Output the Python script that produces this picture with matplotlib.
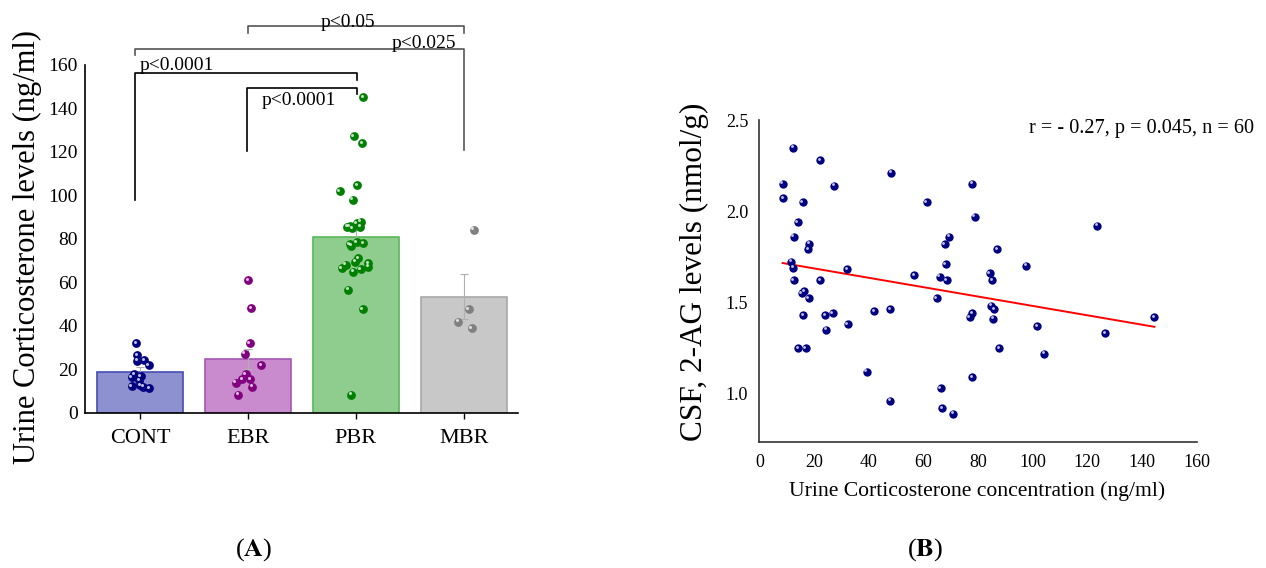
import numpy as np
import matplotlib
matplotlib.use("Agg")
import matplotlib.pyplot as plt
from matplotlib.transforms import offset_copy

plt.rcParams['font.family'] = ['Liberation Serif', 'DejaVu Serif']
plt.rcParams['mathtext.fontset'] = 'stix'

# ---- panel A data ----
groups = ["CONT", "EBR", "PBR", "MBR"]
group_means = [19.0, 25.0, 81.0, 53.5]
group_sem = [2.0, 4.6, 3.0, 10.5]

cont_vals = [32.2, 26.7, 24.1, 24.4, 22.1, 17.9, 17.0, 16.4, 15.2, 12.4, 12.9, 12.1, 11.3]
cont_jit = [-0.034, -0.025, -0.028, 0.040, 0.081, -0.053, 0.006, -0.077, -0.006, -0.077, 0.0, 0.031, 0.086]

ebr_vals = [61.1, 48.1, 32.2, 27.3, 22.1, 17.9, 15.5, 15.5, 13.9, 12.1, 8.4]
ebr_jit = [0.003, 0.028, 0.016, -0.031, 0.123, -0.021, -0.053, 0.019, -0.114, 0.040, -0.090]

pbr_vals = [145.1, 127.2, 124.0, 104.6, 102.1, 98.1,
            85.7, 86.0, 84.9, 87.2, 88.0, 85.7,
            77.6, 78.5, 78.0, 76.9,
            71.1, 69.6, 68.1, 68.8, 66.5, 65.0, 66.1, 67.3,
            56.7, 47.8, 8.4]
pbr_jit = [0.065, -0.022, 0.056, 0.009, -0.152, -0.031,
           -0.083, -0.056, -0.037, 0.006, 0.046, 0.040,
           -0.056, 0.006, 0.068, -0.046,
           0.021, -0.009, -0.093, 0.114, -0.130, -0.025, 0.046, 0.114,
           -0.074, 0.061, -0.044]

mbr_vals = [84.3, 47.8, 42.0, 39.1]
mbr_jit = [0.090, 0.044, -0.052, 0.071]

# significance brackets: (x1, x2, y, left drop, right drop, label, color)
brackets = [
    (1.0, 3.0, 177.9, 174.7, 174.7, "p<0.05", "#555555"),
    (-0.05, 3.0, 167.2, 164.6, 120.9, "p<0.025", "#555555"),
    (-0.05, 2.01, 156.2, 97.9, 153.1, "p<0.0001", "black"),
    (0.99, 2.01, 149.6, 120.6, 146.5, "p<0.0001", "black"),
]

# ---- panel B data ----
cort_x = [12.4, 22.3, 48.3, 8.5, 27.4, 77.9, 8.8, 15.8, 61.2, 78.8,
          123.6, 14.0, 12.6, 69.5, 67.8, 18.2, 17.9, 87.0, 11.7, 12.4,
          68.1, 97.7, 32.1, 56.7, 84.2, 66.0, 68.5, 85.2, 12.6, 22.2,
          16.4, 15.5, 18.0, 64.9, 84.7, 85.8, 41.9, 47.9, 26.8, 24.0,
          16.1, 77.9, 76.9, 85.5, 144.5, 32.3, 101.7, 24.5, 126.6, 14.2,
          17.0, 87.8, 104.3, 39.2, 77.9, 66.3, 47.9, 66.8, 70.9]
ag_y = [2.349, 2.281, 2.210, 2.150, 2.139, 2.150, 2.070, 2.050, 2.050, 1.970,
        1.920, 1.940, 1.860, 1.860, 1.820, 1.822, 1.791, 1.791, 1.722, 1.689,
        1.709, 1.700, 1.680, 1.650, 1.660, 1.640, 1.620, 1.620, 1.620, 1.620,
        1.560, 1.550, 1.521, 1.521, 1.481, 1.461, 1.450, 1.461, 1.439, 1.430,
        1.430, 1.439, 1.419, 1.410, 1.419, 1.379, 1.368, 1.350, 1.329, 1.249,
        1.249, 1.249, 1.218, 1.118, 1.089, 1.027, 0.959, 0.919, 0.888]

bar_face = ["#8e91d0", "#c98bcd", "#8fcd8f", "#c8c8c8"]
bar_edge = ["#454db0", "#a656b3", "#58b858", "#a8a8a8"]
dot_col = ["#000080", "#800080", "#008000", "#808080"]


def balls(ax, x, y, color, s):
    # sphere-like dots: solid dot plus a small shifted highlight
    ax.scatter(x, y, s=s, color=color, zorder=4, linewidths=0, clip_on=False)
    hl = offset_copy(ax.transData, fig=ax.figure, x=-1.0, y=1.0, units='points')
    ax.scatter(x, y, s=s * 0.12, color="white", alpha=0.75, zorder=5,
               linewidths=0, transform=hl, clip_on=False)


fig = plt.figure(figsize=(12.66, 5.68), dpi=100)

# ---------------- A ----------------
ax = fig.add_axes([0.0671, 0.2729, 0.342, 0.6127])
xpos = np.arange(len(groups))
ax.bar(xpos, group_means, width=0.8, color=bar_face, edgecolor=bar_edge,
       linewidth=1.2, zorder=2)
ax.errorbar(xpos, group_means, yerr=group_sem, fmt="none", ecolor="#b0b0b0",
            elinewidth=0.8, capsize=3, capthick=0.8, zorder=3)

for i, (vals, jit) in enumerate([(cont_vals, cont_jit), (ebr_vals, ebr_jit),
                                 (pbr_vals, pbr_jit), (mbr_vals, mbr_jit)]):
    balls(ax, i + np.array(jit), vals, dot_col[i], 40)

for x1, x2, y, yl, yr, lab, c in brackets:
    ax.plot([x1, x1, x2, x2], [yl, y, y, yr], color=c, lw=1.2, clip_on=False, zorder=1)

ax.text(1.93, 177.6, "p<0.05", fontsize=14, ha="center", va="baseline")
ax.text(2.93, 167.7, "p<0.025", fontsize=14, ha="right", va="baseline")
ax.text(0.0, 157.7, "p<0.0001", fontsize=14, ha="left", va="baseline")
ax.text(1.13, 141.6, "p<0.0001", fontsize=14, ha="left", va="baseline")

ax.set_xlim(-0.509, 3.5)
ax.set_ylim(0, 160)
ax.set_yticks(np.arange(0, 161, 20))
ax.set_xticks(xpos)
ax.set_xticklabels(groups)
ax.tick_params(axis="x", length=4, width=1, pad=7.5, labelsize=16)
ax.tick_params(axis="y", length=0, pad=5, labelsize=14)
for side in ["top", "right"]:
    ax.spines[side].set_visible(False)
for side in ["left", "bottom"]:
    ax.spines[side].set_linewidth(1.2)
ax.set_ylabel("Urine Corticosterone levels (ng/ml)", fontsize=22)
ax.yaxis.label.set_va("center")
ax.yaxis.set_label_coords(-0.132, 0.477)

# ---------------- B ----------------
bx = fig.add_axes([0.5998, 0.2224, 0.3455, 0.5663])
balls(bx, cort_x, ag_y, "#000080", 36)
k, b = np.polyfit(cort_x, ag_y, 1)
xl = np.array([min(cort_x), max(cort_x)])
bx.plot(xl, k * xl + b, color="red", lw=1.4, zorder=3)

bx.text(181, 2.427, "r = - 0.27, p = 0.045, n = 60", fontsize=14.6,
        ha="right", va="baseline")

bx.set_xlim(0, 160)
bx.set_ylim(0.735, 2.5)
bx.set_xticks(np.arange(0, 161, 20))
bx.set_yticks([1.0, 1.5, 2.0, 2.5])
bx.set_yticklabels(["1.0", "1.5", "2.0", "2.5"])
bx.tick_params(axis="x", length=0, pad=9, labelsize=13)
bx.tick_params(axis="y", length=0, pad=8, labelsize=13)
for side in ["top", "right"]:
    bx.spines[side].set_visible(False)
for side in ["left", "bottom"]:
    bx.spines[side].set_linewidth(1.2)
    bx.spines[side].set_color("#333333")
bx.set_xlabel("Urine Corticosterone concentration (ng/ml)", fontsize=15.6)
bx.xaxis.label.set_va("center")
bx.xaxis.set_label_coords(0.497, -0.155)
bx.set_ylabel("CSF, 2-AG levels (nmol/g)", fontsize=22.5)
bx.yaxis.label.set_va("center")
bx.yaxis.set_label_coords(-0.149, 0.528)

fig.text(254 / 1266, 1 - 550 / 568, r"($\mathbf{A}$)", fontsize=19, ha="center", va="center")
fig.text(925 / 1266, 1 - 550 / 568, r"($\mathbf{B}$)", fontsize=19, ha="center", va="center")

fig.savefig("out.png", dpi=100)
